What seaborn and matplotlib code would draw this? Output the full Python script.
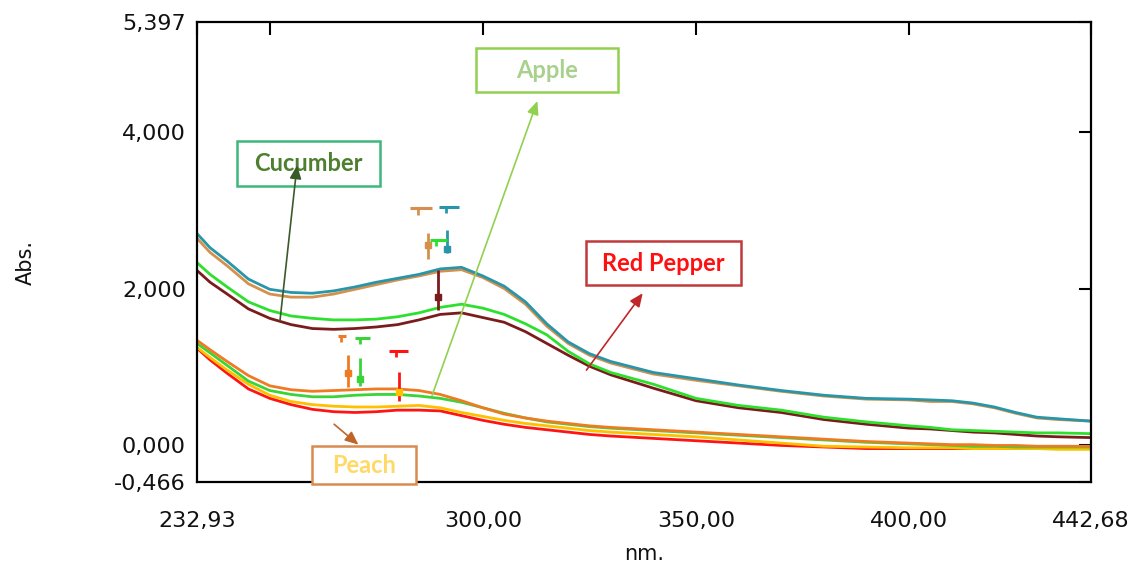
import matplotlib
matplotlib.use("Agg")
import matplotlib.pyplot as plt
import seaborn as sns
import pandas as pd
from matplotlib.patches import Rectangle

# ---------------- data ----------------
wavelength = [232.93, 236, 240, 245, 250, 255, 260, 265, 270, 275, 280, 285, 290, 295,
              300, 305, 310, 315, 320, 325, 330, 340, 350, 360, 370, 380, 390, 400,
              405, 410, 415, 420, 425, 430, 435, 442.68]

teal = [2.70, 2.52, 2.35, 2.12, 1.99, 1.95, 1.94, 1.97, 2.02, 2.08, 2.13, 2.18, 2.25, 2.27,
        2.16, 2.03, 1.83, 1.55, 1.32, 1.17, 1.07, 0.93, 0.85, 0.77, 0.70, 0.64, 0.60, 0.59,
        0.58, 0.57, 0.54, 0.49, 0.42, 0.36, 0.34, 0.31]
tan = [2.64, 2.46, 2.29, 2.06, 1.93, 1.89, 1.89, 1.93, 1.99, 2.05, 2.11, 2.16, 2.22, 2.24,
       2.14, 2.00, 1.80, 1.52, 1.30, 1.15, 1.05, 0.91, 0.83, 0.76, 0.69, 0.63, 0.59, 0.58,
       0.56, 0.56, 0.53, 0.48, 0.41, 0.35, 0.33, 0.31]
green_hi = [2.33, 2.18, 2.02, 1.83, 1.72, 1.65, 1.62, 1.60, 1.60, 1.61, 1.64, 1.69, 1.76, 1.80,
            1.75, 1.67, 1.55, 1.41, 1.20, 1.04, 0.93, 0.78, 0.60, 0.51, 0.45, 0.36, 0.30, 0.25,
            0.23, 0.20, 0.19, 0.18, 0.17, 0.16, 0.16, 0.15]
maroon = [2.23, 2.08, 1.93, 1.74, 1.62, 1.54, 1.49, 1.48, 1.49, 1.51, 1.54, 1.60, 1.67, 1.69,
          1.63, 1.57, 1.45, 1.30, 1.15, 1.01, 0.90, 0.73, 0.57, 0.48, 0.42, 0.33, 0.27, 0.22,
          0.21, 0.19, 0.17, 0.16, 0.14, 0.12, 0.11, 0.10]
orange = [1.34, 1.22, 1.07, 0.89, 0.76, 0.71, 0.69, 0.70, 0.71, 0.72, 0.72, 0.70, 0.65, 0.57,
          0.48, 0.40, 0.35, 0.31, 0.28, 0.25, 0.23, 0.20, 0.17, 0.14, 0.11, 0.08, 0.05, 0.03,
          0.02, 0.01, 0.01, 0.00, 0.00, -0.01, -0.01, -0.01]
green_lo = [1.30, 1.18, 1.02, 0.82, 0.70, 0.65, 0.62, 0.62, 0.64, 0.65, 0.65, 0.63, 0.60, 0.55,
            0.48, 0.41, 0.35, 0.30, 0.27, 0.24, 0.22, 0.19, 0.16, 0.13, 0.10, 0.07, 0.04, 0.02,
            0.01, 0.00, -0.01, -0.01, -0.02, -0.02, -0.02, -0.02]
yellow = [1.25, 1.12, 0.96, 0.78, 0.64, 0.56, 0.52, 0.50, 0.49, 0.49, 0.50, 0.51, 0.48, 0.42,
          0.37, 0.32, 0.28, 0.25, 0.22, 0.19, 0.17, 0.14, 0.11, 0.07, 0.03, -0.01, -0.02, -0.03,
          -0.03, -0.03, -0.04, -0.04, -0.04, -0.04, -0.05, -0.05]
red = [1.24, 1.09, 0.92, 0.72, 0.60, 0.52, 0.46, 0.43, 0.42, 0.43, 0.45, 0.45, 0.44, 0.38,
       0.32, 0.27, 0.23, 0.20, 0.17, 0.14, 0.12, 0.09, 0.06, 0.03, 0.00, -0.02, -0.04, -0.04,
       -0.04, -0.04, -0.04, -0.04, -0.04, -0.04, -0.04, -0.04]

series_names = ["red", "yellow", "green_lo", "orange", "maroon", "green_hi", "tan", "teal"]
series_values = [red, yellow, green_lo, orange, maroon, green_hi, tan, teal]
series_colors = ["#ff1414", "#ffc000", "#3ad43a", "#f07a22", "#7b1c1c", "#2ee02e", "#d4904c", "#2896a8"]

# peak-pick markers: wavelength, top, bottom, blob, colour
peak_wl = [287.2, 291.7, 289.5, 268.4, 271.2, 280.4]
peak_top = [2.71, 2.74, 2.23, 1.15, 1.12, 0.93]
peak_bottom = [2.38, 2.45, 1.72, 0.74, 0.76, 0.57]
peak_blob = [2.55, 2.50, 1.89, 0.92, 0.85, 0.68]
peak_colors = ["#d4904c", "#2896a8", "#7b1c1c", "#f07a22", "#3ad43a", "#ff1414"]
peak_blob_colors = ["#d4904c", "#2896a8", "#7b1c1c", "#f07a22", "#3ad43a", "#ffc000"]

# small peak-label bars above the markers: start, end, level, colour
bar_start = [283.0, 289.8, 287.5, 278.0, 266.0, 270.0]
bar_end = [288.0, 294.3, 291.5, 282.5, 268.0, 273.5]
bar_level = [3.02, 3.04, 2.62, 1.21, 1.40, 1.37]
bar_colors = ["#d4904c", "#2896a8", "#2ee02e", "#ff1414", "#f07a22", "#3ad43a"]

x_ticks = [232.93, 250, 300, 350, 400, 442.68]
x_labels = ["232,93", "", "300,00", "350,00", "400,00", "442,68"]
y_ticks = [-0.466, 0.0, 2.0, 4.0, 5.397]
y_labels = ["-0,466", "0,000", "2,000", "4,000", "5,397"]

# ---------------- figure ----------------
sns.set_style("white")
plt.rcParams["font.family"] = ["DejaVu Sans"]

W, H = 1131, 564
fig = plt.figure(figsize=(W / 100, H / 100), dpi=100)
ax = fig.add_axes([197 / W, (H - 482) / H, (1091 - 197) / W, 460 / H])

rows = []
for name, vals in zip(series_names, series_values):
    for x, y in zip(wavelength, vals):
        rows.append({"nm": x, "abs": y, "series": name})
df = pd.DataFrame(rows)

sns.lineplot(data=df, x="nm", y="abs", hue="series", hue_order=series_names,
             palette=dict(zip(series_names, series_colors)), estimator=None, sort=False,
             linewidth=2.0, legend=False, ax=ax)

# peak markers
for wl, top, bot, blob, c, bc in zip(peak_wl, peak_top, peak_bottom, peak_blob,
                                      peak_colors, peak_blob_colors):
    ax.vlines(wl, bot, top, colors=c, linewidth=2)
    ax.plot([wl], [blob], marker="s", markersize=5, color=bc, zorder=5)
for x0, x1, lv, c in zip(bar_start, bar_end, bar_level, bar_colors):
    ax.hlines(lv, x0, x1, colors=c, linewidth=2.2)
    ax.vlines(x0 + (x1 - x0) * 0.35, lv - 0.08, lv, colors=c, linewidth=2)

ax.set_xlim(232.93, 442.68)
ax.set_ylim(-0.466, 5.397)
ax.set_xticks(x_ticks)
ax.set_xticklabels(x_labels)
ax.set_yticks(y_ticks)
ax.set_yticklabels(y_labels)
ax.tick_params(axis="both", direction="in", length=9, width=1.5, colors="black",
               labelsize=16, top=True, right=True, labelcolor="#111111")
ax.tick_params(axis="x", pad=21)
ax.tick_params(axis="y", pad=8)
for s in ax.spines.values():
    s.set_visible(True)
    s.set_linewidth(1.6)
    s.set_color("black")

ax.set_xlabel("nm.", fontsize=15, color="#111111")
ax.set_ylabel("Abs.", fontsize=15, color="#111111")
ax.xaxis.set_label_coords(0.5, -0.135)
ax.yaxis.set_label_coords(-0.180, 0.478)

# ---------------- labelled boxes with arrows ----------------
boxes = [
    # text, x0, x1, y0, y1, text colour, border colour
    ("Cucumber", 242.3, 275.9, 3.312, 3.885, "#4e7f2e", "#3db87a"),
    ("Apple", 298.5, 331.8, 4.50, 5.06, "#a9d18e", "#92d050"),
    ("Red Pepper", 324.1, 360.5, 2.04, 2.61, "#ff1010", "#c0393b"),
    ("Peach", 259.9, 284.4, -0.497, -0.013, "#ffd966", "#d98a4e"),
]
for text, x0, x1, y0, y1, tc, ec in boxes:
    ax.add_patch(Rectangle((x0, y0), x1 - x0, y1 - y0, facecolor="white", edgecolor=ec,
                           linewidth=1.8, zorder=6, clip_on=False))
    ax.text((x0 + x1) / 2, (y0 + y1) / 2, text, color=tc, fontsize=17, fontweight="bold",
            family="Lato", ha="center", va="center", zorder=7, clip_on=False)

arrows = [
    # tail, head, colour
    ((252.4, 1.59), (256.4, 3.57), "#3a5a2a"),
    ((288.1, 0.64), (312.8, 4.39), "#92d050"),
    ((324.3, 0.96), (337.5, 1.94), "#c0262a"),
    ((265.1, 0.27), (270.8, 0.01), "#c0652a"),
]
for tail, head, c in arrows:
    ax.annotate("", xy=head, xytext=tail,
                arrowprops=dict(arrowstyle="-|>,head_length=0.8,head_width=0.35",
                                color=c, lw=1.2, shrinkA=0, shrinkB=0), zorder=8)

fig.savefig("out.png", dpi=100, facecolor="white")
